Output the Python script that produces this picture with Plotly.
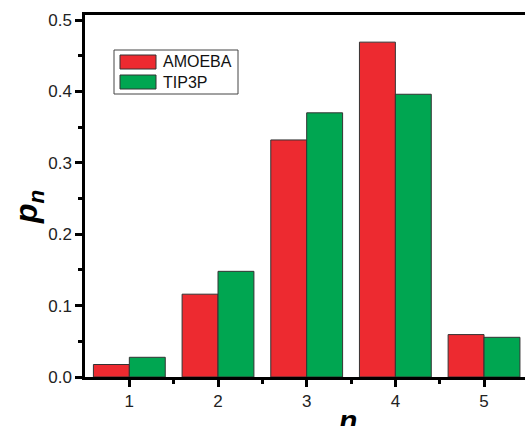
import plotly.graph_objects as go

n_values = [1, 2, 3, 4, 5]
amoeba = [0.0175, 0.116, 0.332, 0.469, 0.0594]
tip3p = [0.0276, 0.148, 0.370, 0.396, 0.0556]
series_names = ["AMOEBA", "TIP3P"]
colors = ["#ED2A30", "#00A651"]

W, H = 525, 426
# plot area in page pixels: x 85..525, y 15..377
L, T, R = 85, 15, 0
B = H - 377
pw, ph = W - L - R, H - T - B

def px(x):
    return (x - L) / pw

def py(y):
    return (H - B - y) / ph

fig = go.Figure()
for name, vals, col in zip(series_names, [amoeba, tip3p], colors):
    fig.add_trace(go.Bar(x=n_values, y=vals, name=name, marker_color=col,
                         marker_line_color="#333333", marker_line_width=1,
                         showlegend=False))

axis_font = dict(family="Liberation Sans, Arial", size=17, color="#222222")
fig.update_layout(
    width=W, height=H,
    margin=dict(l=L, r=R, t=T, b=B, pad=0),
    plot_bgcolor="white", paper_bgcolor="white",
    barmode="group", bargap=0.19, bargroupgap=0,
    xaxis=dict(range=[0.5, 5.462], tickvals=n_values, ticks="outside", ticklen=7,
               tickwidth=2.5, tickcolor="black", showline=True, linewidth=2.5,
               linecolor="black", mirror=True, showgrid=False, zeroline=False,
               tickfont=axis_font,
               minor=dict(tickvals=[1.5, 2.5, 3.5, 4.5], ticks="outside", ticklen=4,
                          tickwidth=2.5, tickcolor="black")),
    yaxis=dict(range=[0, 0.507], tickvals=[0, 0.1, 0.2, 0.3, 0.4, 0.5],
               ticktext=["0.0", "0.1", "0.2", "0.3", "0.4", "0.5"],
               ticks="outside", ticklen=7, tickwidth=2.5, tickcolor="black",
               showline=True, linewidth=2.5, linecolor="black", showgrid=False,
               zeroline=False, tickfont=axis_font,
               minor=dict(tickvals=[0.05, 0.15, 0.25, 0.35, 0.45], ticks="outside",
                          ticklen=4, tickwidth=2.5, tickcolor="black")),
)

shapes = [dict(type="rect", xref="paper", yref="paper", x0=px(114), x1=px(238),
               y0=py(94), y1=py(50), line=dict(color="#444444", width=1),
               fillcolor="white")]
annotations = []
for i, (name, col) in enumerate(zip(series_names, colors)):
    top = 55 + i * 20
    shapes.append(dict(type="rect", xref="paper", yref="paper", x0=px(120), x1=px(156),
                       y0=py(top + 14), y1=py(top), fillcolor=col,
                       line=dict(color="#333333", width=1)))
    annotations.append(dict(text=name, xref="paper", yref="paper", x=px(161),
                            y=py(top + 7), xanchor="left", yanchor="middle",
                            showarrow=False,
                            font=dict(family="Liberation Sans, Arial", size=16,
                                      color="#111111")))

annotations.append(dict(text="<b><i>p<sub>n</sub></i></b>", xref="paper", yref="paper",
                        x=px(28), y=py(207), xanchor="center", yanchor="middle",
                        textangle=-90, showarrow=False,
                        font=dict(family="Liberation Sans, Arial", size=32, color="black")))
annotations.append(dict(text="<b><i>n</i></b>", xref="paper", yref="paper",
                        x=px(348), y=py(402), xanchor="center", yanchor="top",
                        showarrow=False,
                        font=dict(family="Liberation Sans, Arial", size=30, color="black")))

fig.update_layout(shapes=shapes, annotations=annotations)
fig.write_html("out.html", config={"displayModeBar": False},
               post_script="document.body.style.margin='0';document.body.style.overflow='hidden';")
